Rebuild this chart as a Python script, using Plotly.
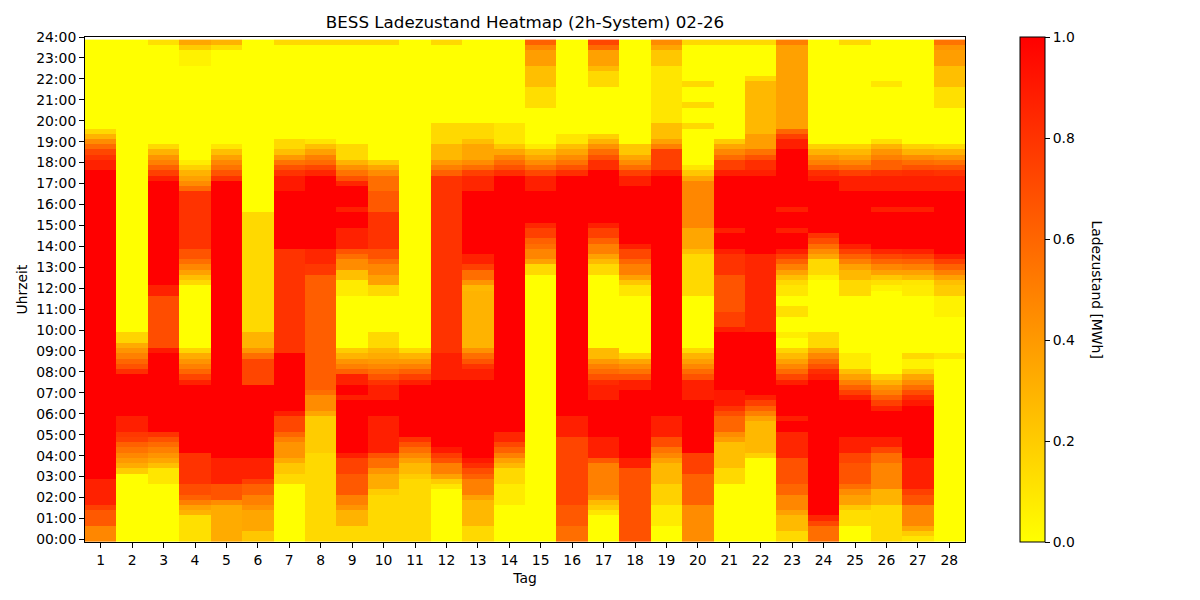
import plotly.graph_objects as go

# --- Data: battery state of charge per day, run-length encoded from 00:00 upward
# each entry = (number of 15-min slots, state of charge in MWh)
day01 = [(3,0.47),(3,0.65),(1,0.75),(5,0.87),(59,1.0),(2,0.87),(1,0.8),(1,0.72),(1,0.58),(1,0.45),(1,0.3),(1,0.15),(17,0)]
day02 = [(13,0),(1,0.2),(1,0.33),(1,0.4),(1,0.47),(1,0.55),(1,0.62),(1,0.75),(1,0.78),(3,0.88),(8,1.0),(1,0.82),(1,0.68),(1,0.6),(1,0.5),(1,0.42),(1,0.33),(2,0.17),(56,0)]
day03 = [(11,0),(3,0.1),(1,0.25),(1,0.35),(1,0.42),(1,0.5),(1,0.58),(1,0.68),(1,0.8),(15,1.0),(1,0.9),(10,0.7),(2,0.87),(20,1.0),(1,0.88),(1,0.75),(1,0.62),(1,0.5),(1,0.42),(1,0.3),(1,0.15),(19,0),(1,0.12)]
day04 = [(5,0.12),(1,0.3),(1,0.37),(1,0.5),(1,0.62),(2,0.7),(6,0.8),(13,1.0),(1,0.87),(1,0.73),(1,0.6),(1,0.5),(1,0.42),(1,0.33),(1,0.17),(12,0),(1,0.15),(1,0.25),(1,0.37),(1,0.47),(1,0.57),(2,0.67),(11,0.8),(1,0.58),(1,0.45),(1,0.37),(1,0.3),(1,0.18),(1,0.07),(18,0),(3,0.05),(1,0.2),(1,0.35)]
day05 = [(7,0.33),(1,0.45),(3,0.67),(5,0.87),(53,1.0),(1,0.8),(1,0.67),(1,0.55),(1,0.47),(1,0.37),(1,0.25),(1,0.1),(18,0),(1,0.12),(1,0.3)]
day06 = [(2,0.22),(4,0.35),(1,0.43),(2,0.5),(2,0.62),(1,0.75),(4,0.87),(14,1.0),(5,0.73),(1,0.57),(1,0.42),(3,0.3),(23,0.15),(33,0)]
day07 = [(11,0),(2,0.15),(2,0.22),(1,0.33),(3,0.42),(1,0.5),(1,0.6),(3,0.72),(1,0.88),(11,1.0),(20,0.8),(11,1.0),(3,0.9),(1,0.8),(1,0.68),(1,0.55),(1,0.4),(1,0.25),(2,0.15),(18,0),(1,0.15)]
day08 = [(17,0.15),(7,0.2),(1,0.35),(3,0.45),(1,0.57),(22,0.63),(2,0.78),(3,0.85),(14,1.0),(1,0.85),(1,0.72),(1,0.58),(1,0.5),(1,0.37),(1,0.25),(1,0.1),(18,0),(1,0.15)]
day09 = [(3,0.15),(3,0.3),(1,0.42),(2,0.5),(4,0.65),(3,0.74),(1,0.88),(10,1.0),(1,0.88),(2,1.0),(2,0.87),(1,0.62),(1,0.5),(1,0.42),(1,0.3),(1,0.2),(10,0),(3,0.08),(2,0.25),(2,0.45),(1,0.57),(1,0.67),(4,0.87),(3,1.0),(1,0.88),(4,1.0),(1,0.85),(1,0.68),(1,0.55),(1,0.43),(1,0.3),(3,0.15),(19,0),(1,0.15)]
day10 = [(9,0.15),(1,0.2),(3,0.33),(1,0.42),(2,0.57),(1,0.68),(7,0.88),(3,1.0),(3,0.88),(1,0.8),(1,0.67),(1,0.57),(1,0.47),(1,0.4),(1,0.33),(1,0.28),(3,0.15),(7,0),(2,0.15),(2,0.37),(2,0.47),(1,0.57),(2,0.68),(7,0.8),(4,0.65),(3,0.57),(1,0.45),(1,0.35),(1,0.2),(22,0),(1,0.15)]
day11 = [(12,0.15),(1,0.2),(2,0.27),(1,0.37),(1,0.47),(1,0.57),(1,0.68),(1,0.8),(10,1.0),(1,0.88),(1,0.75),(1,0.62),(1,0.5),(1,0.4),(1,0.3),(1,0.15),(59,0)]
day12 = [(10,0),(1,0.1),(1,0.2),(1,0.37),(2,0.5),(1,0.68),(1,0.77),(1,0.9),(13,1.0),(5,0.88),(34,0.8),(1,0.62),(1,0.5),(1,0.4),(3,0.28),(4,0.15),(15,0),(1,0.15)]
day13 = [(3,0.15),(5,0.28),(1,0.37),(3,0.5),(1,0.62),(1,0.7),(1,0.82),(1,0.9),(15,1.0),(2,0.88),(1,0.8),(1,0.67),(1,0.57),(1,0.43),(11,0.3),(1,0.28),(1,0.42),(2,0.57),(1,0.75),(2,0.87),(12,1.0),(3,0.85),(1,0.75),(1,0.57),(1,0.45),(3,0.35),(1,0.25),(3,0.15),(16,0)]
day14 = [(7,0),(4,0.08),(3,0.15),(1,0.28),(1,0.37),(1,0.5),(1,0.62),(1,0.72),(2,0.85),(49,1.0),(1,0.82),(1,0.68),(1,0.58),(1,0.47),(1,0.35),(1,0.22),(4,0.1),(16,0)]
day15 = [(51,0),(2,0.15),(1,0.37),(2,0.48),(1,0.57),(1,0.62),(2,0.75),(1,0.85),(6,1.0),(3,0.88),(1,0.72),(1,0.57),(1,0.45),(1,0.35),(1,0.25),(1,0.08),(7,0),(4,0.13),(4,0.25),(3,0.38),(1,0.47),(1,0.62)]
day16 = [(3,0.57),(4,0.65),(13,0.73),(4,0.88),(46,1.0),(1,0.82),(1,0.67),(1,0.55),(1,0.45),(1,0.35),(1,0.25),(2,0.1),(18,0)]
day17 = [(5,0),(1,0.1),(1,0.2),(1,0.27),(1,0.42),(6,0.5),(1,0.65),(4,0.88),(7,1.0),(3,0.88),(1,0.83),(1,0.68),(1,0.58),(1,0.5),(1,0.4),(2,0.27),(14,0),(2,0.15),(1,0.27),(1,0.37),(2,0.5),(1,0.62),(2,0.75),(1,0.88),(10,1.0),(2,0.82),(1,0.68),(1,0.57),(1,0.43),(1,0.3),(1,0.18),(9,0),(3,0.15),(1,0.27),(3,0.37),(1,0.58),(1,0.72)]
day18 = [(14,0.68),(2,0.88),(13,1.0),(2,0.88),(1,0.68),(1,0.55),(1,0.45),(1,0.35),(1,0.17),(11,0),(2,0.1),(1,0.22),(1,0.37),(2,0.5),(1,0.6),(2,0.72),(1,0.88),(11,1.0),(2,0.88),(1,0.75),(1,0.57),(1,0.45),(1,0.35),(2,0.22),(20,0)]
day19 = [(3,0),(4,0.08),(4,0.18),(4,0.28),(1,0.37),(1,0.47),(1,0.55),(2,0.7),(4,0.88),(46,1.0),(1,0.88),(4,0.75),(1,0.5),(1,0.37),(3,0.25),(11,0.1),(3,0.22),(1,0.35),(1,0.45)]
day20 = [(7,0.45),(6,0.62),(4,0.75),(10,1.0),(4,0.88),(1,0.68),(1,0.58),(1,0.47),(1,0.38),(1,0.3),(1,0.15),(10,0),(8,0.15),(1,0.25),(4,0.35),(9,0.47),(1,0.35),(1,0.22),(1,0.1),(7,0),(1,0.15),(3,0),(1,0.15),(3,0),(1,0.15),(7,0),(1,0.15)]
day21 = [(11,0),(3,0.15),(5,0.25),(1,0.38),(1,0.45),(3,0.6),(1,0.7),(1,0.8),(3,0.9),(11,1.0),(1,0.88),(3,0.75),(7,0.67),(4,0.8),(1,0.88),(3,1.0),(1,0.88),(10,1.0),(1,0.88),(2,0.75),(1,0.58),(1,0.47),(1,0.35),(1,0.2),(18,0),(1,0.15)]
day22 = [(16,0),(1,0.18),(6,0.28),(1,0.37),(1,0.5),(1,0.62),(1,0.75),(1,0.88),(12,1.0),(15,0.85),(15,1.0),(1,0.88),(2,0.82),(1,0.68),(1,0.55),(3,0.38),(10,0.28),(1,0.15),(6,0),(1,0.15)]
day23 = [(2,0.15),(3,0.27),(1,0.37),(3,0.47),(2,0.6),(5,0.68),(5,0.85),(2,1.0),(1,0.88),(6,1.0),(1,0.88),(1,0.72),(1,0.58),(1,0.47),(1,0.37),(1,0.27),(1,0.17),(2,0),(1,0.07),(3,0),(2,0.12),(2,0),(2,0.1),(1,0.15),(1,0.25),(1,0.37),(1,0.5),(1,0.62),(1,0.75),(1,0.88),(3,1.0),(1,0.88),(3,1.0),(1,0.88),(11,1.0),(2,0.88),(1,0.75),(1,0.6),(16,0.37),(1,0.5)]
day24 = [(3,0.57),(1,0.72),(1,0.85),(26,1.0),(1,0.88),(1,0.82),(1,0.68),(1,0.58),(1,0.47),(1,0.35),(3,0.15),(10,0),(1,0.05),(3,0.15),(1,0.35),(1,0.45),(1,0.57),(1,0.7),(1,0.8),(10,1.0),(1,0.88),(1,0.82),(1,0.62),(1,0.5),(1,0.42),(1,0.3),(1,0.18),(20,0)]
day25 = [(3,0),(3,0.13),(1,0.22),(2,0.37),(1,0.45),(1,0.57),(4,0.67),(2,0.73),(3,0.88),(7,1.0),(1,0.88),(1,0.75),(1,0.62),(1,0.5),(1,0.37),(1,0.25),(3,0.08),(11,0),(3,0.15),(2,0.28),(1,0.37),(1,0.5),(1,0.62),(1,0.75),(1,0.88),(10,1.0),(3,0.88),(1,0.75),(1,0.58),(1,0.47),(1,0.37),(1,0.28),(1,0.18),(19,0),(1,0.15)]
day26 = [(7,0.14),(3,0.3),(5,0.48),(2,0.57),(1,0.72),(2,0.88),(5,1.0),(1,0.87),(1,0.75),(1,0.62),(1,0.5),(1,0.42),(1,0.3),(1,0.18),(16,0),(1,0.05),(1,0.12),(1,0.22),(1,0.37),(1,0.47),(1,0.6),(1,0.72),(1,0.85),(7,1.0),(1,0.88),(3,1.0),(3,0.88),(1,0.8),(2,0.62),(1,0.5),(1,0.42),(1,0.3),(1,0.12),(10,0),(1,0.1),(8,0)]
day27 = [(1,0.1),(1,0.2),(1,0.35),(4,0.47),(2,0.67),(1,0.75),(6,0.88),(10,1.0),(1,0.9),(1,0.82),(1,0.7),(1,0.57),(1,0.45),(1,0.35),(1,0.18),(2,0.05),(1,0.15),(11,0),(2,0.08),(1,0.1),(1,0.27),(1,0.37),(1,0.5),(1,0.62),(1,0.75),(1,0.87),(7,1.0),(1,0.88),(3,1.0),(3,0.88),(1,0.82),(1,0.68),(1,0.57),(1,0.45),(1,0.3),(1,0.18),(20,0)]
day28 = [(35,0),(1,0.1),(7,0),(4,0.05),(2,0.2),(1,0.25),(1,0.37),(1,0.5),(1,0.62),(1,0.75),(1,0.88),(12,1.0),(3,0.88),(1,0.8),(1,0.67),(1,0.55),(1,0.42),(1,0.3),(1,0.15),(7,0),(4,0.12),(4,0.25),(3,0.38),(1,0.42),(1,0.55)]

days = list(range(1, 29))
slots = list(range(96))  # 15-minute slots, 0 = 00:00
hour_labels = [f"{h:02d}:00" for h in range(25)]
cbar_ticks = [0.0, 0.2, 0.4, 0.6, 0.8, 1.0]

day_runs = [day01, day02, day03, day04, day05, day06, day07, day08, day09, day10,
            day11, day12, day13, day14, day15, day16, day17, day18, day19, day20,
            day21, day22, day23, day24, day25, day26, day27, day28]


def expand(runs):
    out = []
    for n, v in runs:
        out.extend([v] * n)
    assert len(out) == 96, len(out)
    return out


cols = [expand(r) for r in day_runs]
z = [[cols[d][s] for d in range(len(days))] for s in slots]

FONT = "DejaVu Sans"
PL, PR, PT, PB = 85, 965, 37, 542  # plot area in pixels
W, H = 1200, 600

fig = go.Figure(
    go.Heatmap(
        x=days,
        y=slots,
        z=z,
        zmin=0,
        zmax=1,
        colorscale=[[0, "rgb(255,255,0)"], [1, "rgb(255,0,0)"]],
        colorbar=dict(
            x=(1020 - PL) / (PR - PL),
            xanchor="left",
            xref="paper",
            y=0.5,
            yanchor="middle",
            len=1,
            lenmode="fraction",
            ypad=0,
            xpad=0,
            thickness=25,
            thicknessmode="pixels",
            outlinewidth=1,
            outlinecolor="black",
            tickmode="array",
            tickvals=cbar_ticks,
            ticktext=[f"{t:.1f}" for t in cbar_ticks],
            ticks="outside",
            ticklen=5,
            tickwidth=1,
            tickcolor="black",
            tickfont=dict(family=FONT, size=13.9, color="black"),
        ),
        hovertemplate="Tag %{x}<br>Slot %{y}<br>%{z:.2f} MWh<extra></extra>",
    )
)

fig.add_annotation(
    text="Ladezustand [MWh]",
    textangle=90,
    xref="paper",
    yref="paper",
    x=(1097 - PL) / (PR - PL),
    y=0.5,
    xanchor="center",
    yanchor="middle",
    showarrow=False,
    font=dict(family=FONT, size=13.9, color="black"),
)

fig.update_layout(
    width=W,
    height=H,
    margin=dict(l=PL, r=W - PR, t=PT, b=H - PB),
    paper_bgcolor="white",
    plot_bgcolor="white",
    font=dict(family=FONT, size=13.9, color="black"),
    title=dict(
        text="BESS Ladezustand Heatmap (2h-System) 02-26",
        x=(PL + PR) / 2 / W,
        xanchor="center",
        y=1 - 22 / H,
        yanchor="middle",
        yref="container",
        font=dict(family=FONT, size=16.7, color="black"),
    ),
    xaxis=dict(
        range=[0.5, 28.5],
        tickmode="array",
        tickvals=days,
        ticktext=[str(d) for d in days],
        ticks="outside",
        ticklen=5,
        tickcolor="black",
        showline=True,
        mirror=True,
        linecolor="black",
        linewidth=1,
        showgrid=False,
        zeroline=False,
        title=dict(text="Tag", standoff=6, font=dict(family=FONT, size=13.9)),
    ),
    yaxis=dict(
        range=[-0.5, 96],
        tickmode="array",
        tickvals=list(range(0, 97, 4)),
        ticktext=hour_labels,
        ticks="outside",
        ticklen=5,
        tickcolor="black",
        showline=True,
        mirror=True,
        linecolor="black",
        linewidth=1,
        showgrid=False,
        zeroline=False,
        title=dict(text="Uhrzeit", standoff=5, font=dict(family=FONT, size=13.9)),
    ),
)

fig.write_html(
    "out.html",
    config={"displayModeBar": False},
    post_script="document.body.style.margin='0px';",
)
